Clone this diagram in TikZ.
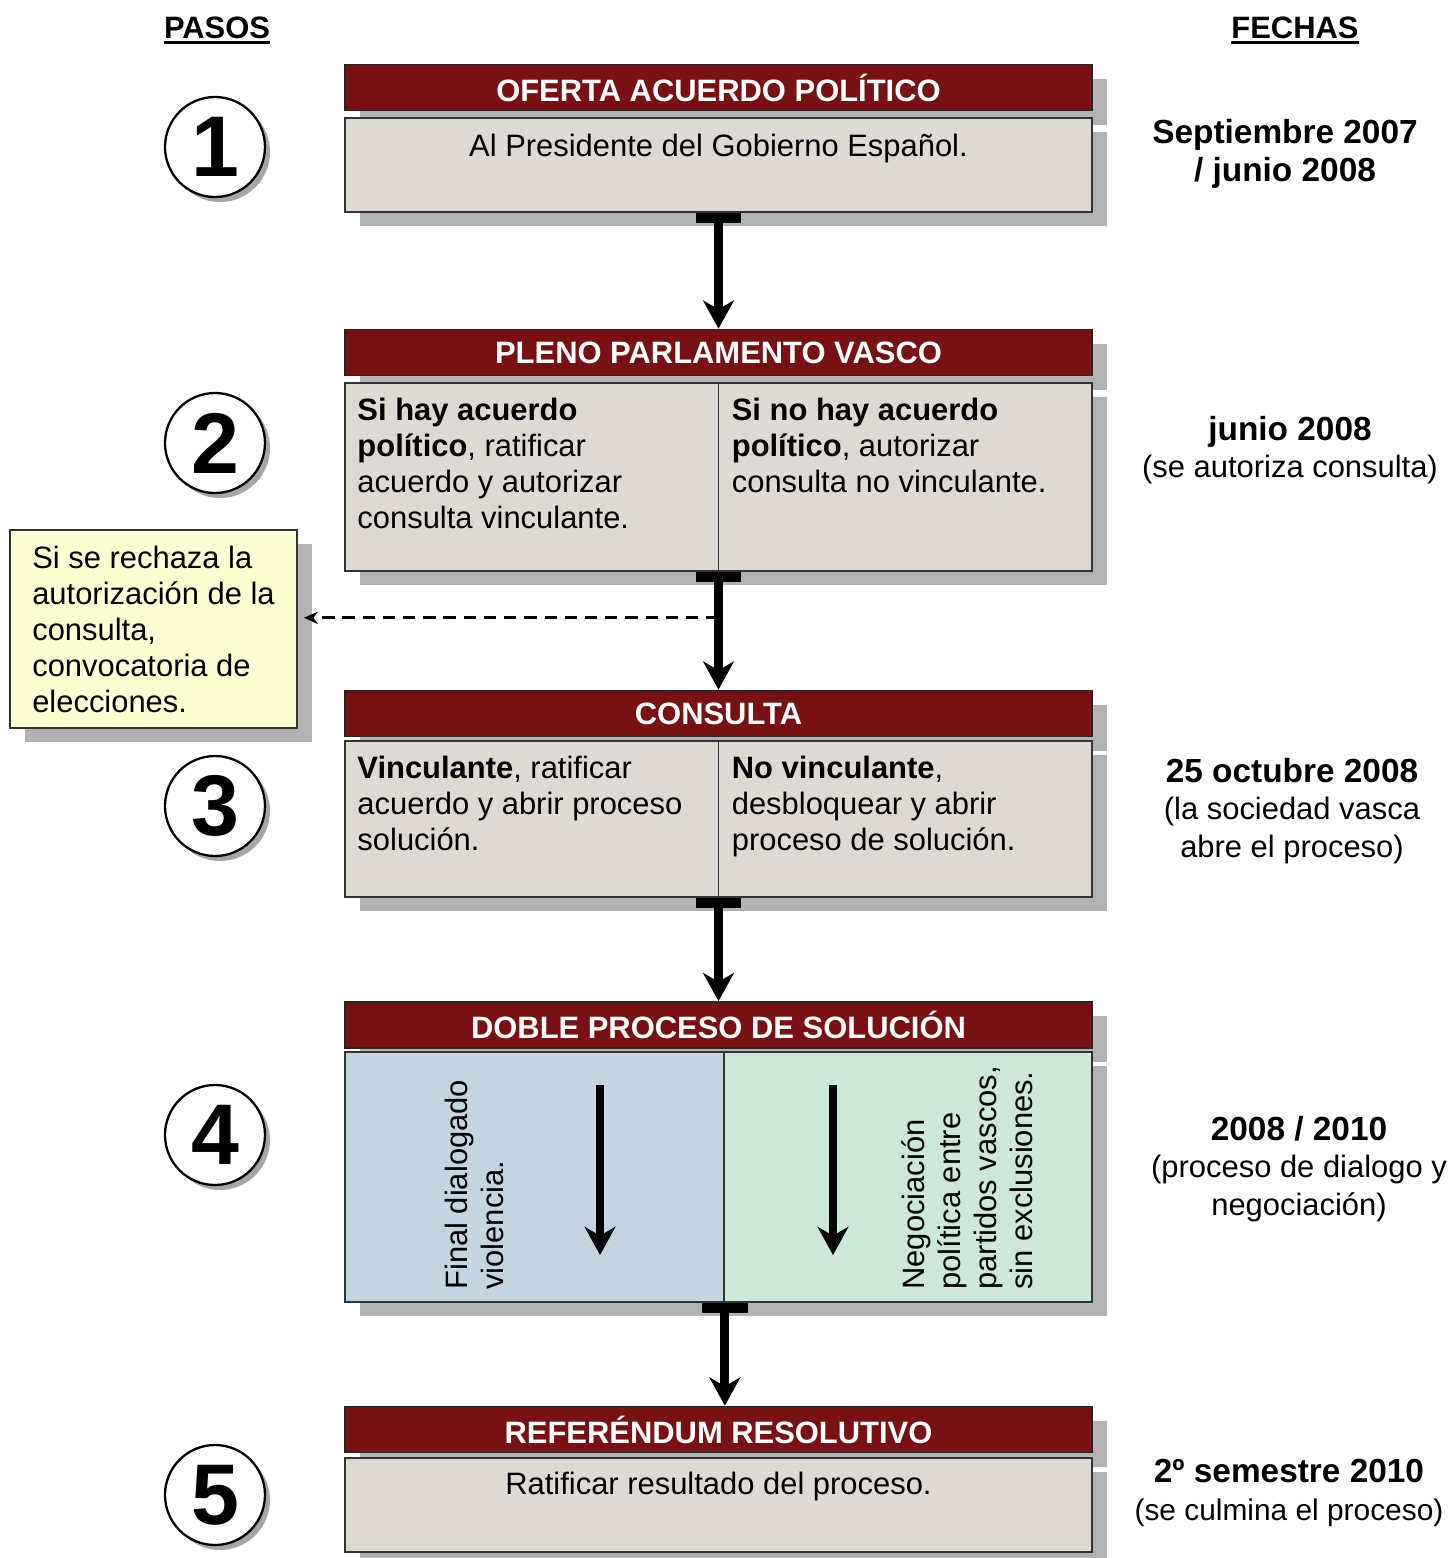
\documentclass[tikz,border=0pt]{standalone}
\usepackage{fontspec}
\setmainfont{Liberation Sans}
\usetikzlibrary{positioning,calc,arrows.meta,shadows}

\definecolor{titlered}{RGB}{120,16,20}
\definecolor{stepgray}{RGB}{222,217,211}
\definecolor{notecream}{RGB}{255,255,212}
\definecolor{talkblue}{RGB}{196,213,226}
\definecolor{talkgreen}{RGB}{204,232,217}

% underlined column heading
\newcommand{\hdrline}[1]{\setbox0\hbox{#1}\leavevmode\rlap{\copy0}\raisebox{-3.2pt}{\rule{\wd0}{1.6pt}}}

\begin{document}
\begin{tikzpicture}[
  boxshadow/.style={drop shadow={shadow xshift=0.3cm, shadow yshift=-0.28cm, fill=black!30, opacity=1}},
  headbar/.style={rectangle, draw=black!85, line width=1pt, fill=titlered, text=white,
    minimum width=14.94cm, minimum height=0.92cm, inner sep=0pt,
    font=\fontsize{17.6}{20.5}\selectfont\bfseries, boxshadow},
  stage/.style={rectangle, draw=black!80, line width=1pt, fill=stepgray,
    minimum width=14.94cm, inner sep=0pt, boxshadow},
  txt/.style={inner sep=0pt, align=left, font=\fontsize{17.6}{20.5}\selectfont},
  num/.style={circle, draw, line width=1.3pt, fill=white, minimum size=2cm, inner sep=0pt,
    font=\fontsize{49}{49}\selectfont\bfseries,
    drop shadow={shadow xshift=0.1cm, shadow yshift=-0.1cm, fill=black!35, opacity=1}},
  datetxt/.style={align=center, font=\fontsize{17.6}{21.5}\selectfont},
  heading/.style={anchor=base, font=\fontsize{17.6}{20}\selectfont\bfseries},
  note/.style={rectangle, draw=black!80, line width=1pt, fill=notecream,
    minimum width=5.74cm, minimum height=3.96cm, align=left,
    font=\fontsize{17.6}{20.5}\selectfont, boxshadow},
  flow/.style={{Rectangle[length=5.7pt,width=26pt]}-{Stealth[length=16pt,width=17.5pt,inset=5pt]}, line width=5pt},
  inner/.style={-{Stealth[length=16pt,width=17.5pt,inset=5pt]}, line width=5pt},
  aside/.style={-{Stealth[length=8pt,width=7pt]}, line width=1.5pt, dash pattern=on 7pt off 4.5pt, shorten >=0.12cm}
]
\useasboundingbox (0,0) rectangle (28.96,-31.16);
\fill[white] (0,0) rectangle (28.96,-31.16);

% column headings
\node[heading] (pasos) at (4.34,-0.76) {\hdrline{PASOS}};
\node[heading] (fechas) at (25.9,-0.76) {\hdrline{FECHAS}};

% step numbers
\node[num] (n1) at (4.3,-2.94) {1};
\node[num] (n2) at (4.3,-8.86) {2};
\node[num] (n3) at (4.3,-16.12) {3};
\node[num] (n4) at (4.3,-22.7) {4};
\node[num] (n5) at (4.3,-29.9) {5};

% step 1
\node[headbar] (h1) at (14.37,-1.75) {OFERTA ACUERDO POLÍTICO};
\node[stage, minimum height=1.88cm] (b1) at (14.37,-3.3) {};
\node[txt, below=0.34 of b1.north] (t1) {Al Presidente del Gobierno Español.};

% step 2
\node[headbar] (h2) at (14.37,-7.05) {PLENO PARLAMENTO VASCO};
\node[stage, minimum height=3.76cm] (b2) at (14.37,-9.54) {};
\draw[line width=1pt, black!80] (b2.north) -- (b2.south);
\node[txt, below right=0.32 and 0.26 of b2.north west] (t2l)
  {\textbf{Si hay acuerdo}\\\textbf{político}, ratificar\\acuerdo y autorizar\\consulta vinculante.};
\node[txt, below right=0.32 and 0.26 of b2.north] (t2r)
  {\textbf{Si no hay acuerdo}\\\textbf{político}, autorizar\\consulta no vinculante.};

% step 3
\node[headbar] (h3) at (14.37,-14.27) {CONSULTA};
\node[stage, minimum height=3.12cm] (b3) at (14.37,-16.38) {};
\draw[line width=1pt, black!80] (b3.north) -- (b3.south);
\node[txt, below right=0.32 and 0.26 of b3.north west] (t3l)
  {\textbf{Vinculante}, ratificar\\acuerdo y abrir proceso\\solución.};
\node[txt, below right=0.32 and 0.26 of b3.north] (t3r)
  {\textbf{No vinculante},\\desbloquear y abrir\\proceso de solución.};

% step 4
\node[headbar] (h4) at (14.37,-20.5) {DOBLE PROCESO DE SOLUCIÓN};
\node[stage, fill=talkblue, minimum width=7.58cm, minimum height=5cm] (b4l) at (10.69,-23.54) {};
\node[stage, fill=talkgreen, minimum width=7.36cm, minimum height=5cm] (b4r) at (18.16,-23.54) {};
\node[txt, rotate=90, anchor=north west] (t4l) at (8.9,-25.8) {Final dialogado\\violencia.};
\node[txt, rotate=90, anchor=north west] (t4r) at (18.02,-25.8)
  {Negociación\\política entre\\partidos vascos,\\sin exclusiones.};
\coordinate (l1) at (12.0,-21.7);
\coordinate (l2) at (12.0,-25.1);
\coordinate (r1) at (16.66,-21.7);
\coordinate (r2) at (16.66,-25.1);
\draw[inner] (l1) -- (l2);
\draw[inner] (r1) -- (r2);

% step 5
\node[headbar] (h5) at (14.37,-28.59) {REFERÉNDUM RESOLUTIVO};
\node[stage, minimum height=1.88cm] (b5) at (14.37,-30.1) {};
\node[txt, below=0.3 of b5.north] (t5) {Ratificar resultado del proceso.};

% side note
\node[note] (note) at (3.07,-12.58)
  {Si se rechaza la\\autorización de la\\consulta,\\convocatoria de\\elecciones.};

% connectors
\draw[flow] (b1.south) -- (h2.north);
\draw[flow] (b2.south) -- coordinate[pos=0.39] (fork) (h3.north);
\draw[flow] (b3.south) -- (h4.north);
\draw[flow] (b4l.south east) -- (b4l.south east |- h5.north);
\draw[aside] (fork) -- (fork -| note.east);

% dates
\node[datetxt, font=\fontsize{19}{22}\selectfont\bfseries] (d1) at (25.7,-3.08)
  {Septiembre 2007\\/ junio 2008};
\node[datetxt] (d2) at (25.8,-9.0)
  {{\fontsize{19}{22}\selectfont\bfseries junio 2008}\\(se autoriza consulta)};
\node[datetxt] (d3) at (25.84,-16.22)
  {{\fontsize{19}{22}\selectfont\bfseries 25 octubre 2008}\\(la sociedad vasca\\abre el proceso)};
\node[datetxt] (d4) at (25.98,-23.38)
  {{\fontsize{19}{22}\selectfont\bfseries 2008 / 2010}\\(proceso de dialogo y\\negociación)};
\node[datetxt, font=\fontsize{17}{21.5}\selectfont] (d5) at (25.78,-29.86)
  {{\fontsize{19}{22}\selectfont\bfseries 2º semestre 2010}\\(se culmina el proceso)};
\end{tikzpicture}
\end{document}
